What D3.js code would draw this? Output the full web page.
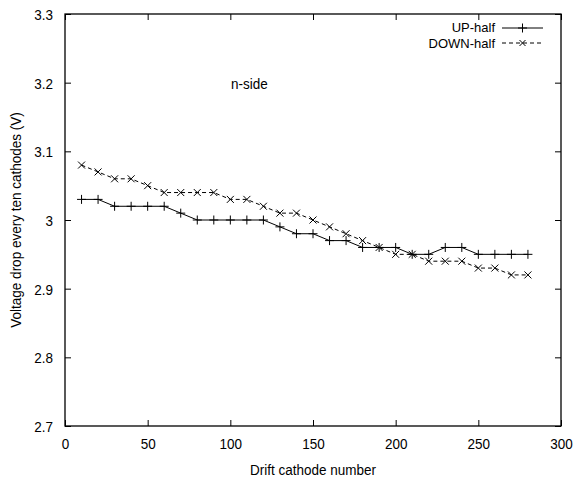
<!DOCTYPE html>
<html>
<head>
<meta charset="utf-8">
<script src="https://cdn.jsdelivr.net/npm/d3@7"></script>
<style>
  body { margin: 0; background: #fff; }
  text { font-family: "Liberation Sans", Arial, sans-serif; font-size: 13.5px; fill: #000; }
  .axis path, .axis line { stroke: #000; }
</style>
</head>
<body>
<div class="chart"></div>
<script>
// cathode numbers along x
const cathodes = [10, 20, 30, 40, 50, 60, 70, 80, 90, 100, 110, 120, 130, 140,
  150, 160, 170, 180, 190, 200, 210, 220, 230, 240, 250, 260, 270, 280];
const upHalf = [3.03, 3.03, 3.02, 3.02, 3.02, 3.02, 3.01, 3.00, 3.00, 3.00, 3.00, 3.00, 2.99, 2.98,
  2.98, 2.97, 2.97, 2.96, 2.96, 2.96, 2.95, 2.95, 2.96, 2.96, 2.95, 2.95, 2.95, 2.95];
const downHalf = [3.08, 3.07, 3.06, 3.06, 3.05, 3.04, 3.04, 3.04, 3.04, 3.03, 3.03, 3.02, 3.01, 3.01,
  3.00, 2.99, 2.98, 2.97, 2.96, 2.95, 2.95, 2.94, 2.94, 2.94, 2.93, 2.93, 2.92, 2.92];
const xTicks = [0, 50, 100, 150, 200, 250, 300];
const yTicks = [2.7, 2.8, 2.9, 3.0, 3.1, 3.2, 3.3];

const w = 573, h = 479;
const margin = {top: 14, right: 12, bottom: 53, left: 65};
const sy = 1.1; // text in the original is a bit taller than wide

const svg = d3.select(".chart").append("svg")
  .attr("width", w).attr("height", h);

const x = d3.scaleLinear().domain([0, 300]).range([margin.left, w - margin.right]);
const y = d3.scaleLinear().domain([2.7, 3.3]).range([h - margin.bottom, margin.top]);

// gnuplot style ticks pointing inward on all sides
const tk = 6;
const xAxis = svg.append("g").attr("class", "axis")
  .attr("transform", `translate(0,${h - margin.bottom})`)
  .call(d3.axisBottom(x).tickValues(xTicks).tickFormat(d3.format("d")).tickSize(-tk).tickSizeOuter(0));
svg.append("g").attr("class", "axis")
  .attr("transform", `translate(0,${margin.top})`)
  .call(d3.axisTop(x).tickValues(xTicks).tickFormat("").tickSize(-tk).tickSizeOuter(0));
const yAxis = svg.append("g").attr("class", "axis")
  .attr("transform", `translate(${margin.left},0)`)
  .call(d3.axisLeft(y).tickValues(yTicks).tickFormat(d => d === 3 ? "3" : d3.format(".1f")(d)).tickSize(-tk).tickSizeOuter(0));
svg.append("g").attr("class", "axis")
  .attr("transform", `translate(${w - margin.right},0)`)
  .call(d3.axisRight(y).tickValues(yTicks).tickFormat("").tickSize(-tk).tickSizeOuter(0));
svg.selectAll(".axis text").style("font-size", "13.5px").style("font-family", "Liberation Sans, Arial, sans-serif");
svg.selectAll(".axis .domain").remove();

// stretch the tick labels vertically around their baseline
xAxis.selectAll(".tick text")
  .attr("y", 0).attr("dy", null)
  .attr("transform", `translate(0,23) scale(1,${sy})`);
yAxis.selectAll(".tick text")
  .attr("x", 0).attr("dy", null)
  .attr("transform", `translate(-12,5.5) scale(1,${sy})`);

// frame
svg.append("rect")
  .attr("x", margin.left).attr("y", margin.top)
  .attr("width", w - margin.left - margin.right)
  .attr("height", h - margin.top - margin.bottom)
  .attr("fill", "none").attr("stroke", "#000").attr("stroke-width", 1.3);

const up = cathodes.map((c, i) => ({x: c, y: upHalf[i]}));
const down = cathodes.map((c, i) => ({x: c, y: downHalf[i]}));
const line = d3.line().x(d => x(d.x)).y(d => y(d.y));

svg.append("path").datum(up).attr("d", line)
  .attr("fill", "none").attr("stroke", "#000").attr("stroke-width", 1);
svg.append("path").datum(down).attr("d", line)
  .attr("fill", "none").attr("stroke", "#000").attr("stroke-width", 1).attr("stroke-dasharray", "4,3");

const plus = (g, cx, cy, s) => g.append("path")
  .attr("d", `M${cx - s},${cy}H${cx + s}M${cx},${cy - s}V${cy + s}`)
  .attr("stroke", "#000").attr("stroke-width", 1);
const cross = (g, cx, cy, s) => g.append("path")
  .attr("d", `M${cx - s},${cy - s}L${cx + s},${cy + s}M${cx - s},${cy + s}L${cx + s},${cy - s}`)
  .attr("stroke", "#000").attr("stroke-width", 1);

const marks = svg.append("g");
up.forEach(d => plus(marks, x(d.x), y(d.y), 4.5));
down.forEach(d => cross(marks, x(d.x), y(d.y), 3.5));

// text helper: baseline at (tx,ty), stretched vertically
const label = (tx, ty, str, anchor, rot, k) => svg.append("text")
  .attr("transform", `translate(${tx},${ty})${rot ? " rotate(" + rot + ")" : ""} scale(1,${k || sy})`)
  .attr("text-anchor", anchor || "start").text(str);

// legend (kept unstretched so the two rows don't collide)
const lg = svg.append("g");
label(495, 32, "UP-half", "end", 0, 1).style("font-size", "13px");
lg.append("line").attr("x1", 502).attr("x2", 543).attr("y1", 28).attr("y2", 28).attr("stroke", "#000");
plus(lg, 522.5, 28, 4.5);
label(495, 47.5, "DOWN-half", "end", 0, 1).style("font-size", "13px");
lg.append("line").attr("x1", 502).attr("x2", 543).attr("y1", 43).attr("y2", 43).attr("stroke", "#000").attr("stroke-dasharray", "4,3");
cross(lg, 522.5, 43, 3);

// labels
label(231, 89, "n-side");
label((margin.left + w - margin.right) / 2, 475, "Drift cathode number", "middle");
label(21, (margin.top + h - margin.bottom) / 2, "Voltage drop every ten cathodes (V)", "middle", -90);
</script>
</body>
</html>
